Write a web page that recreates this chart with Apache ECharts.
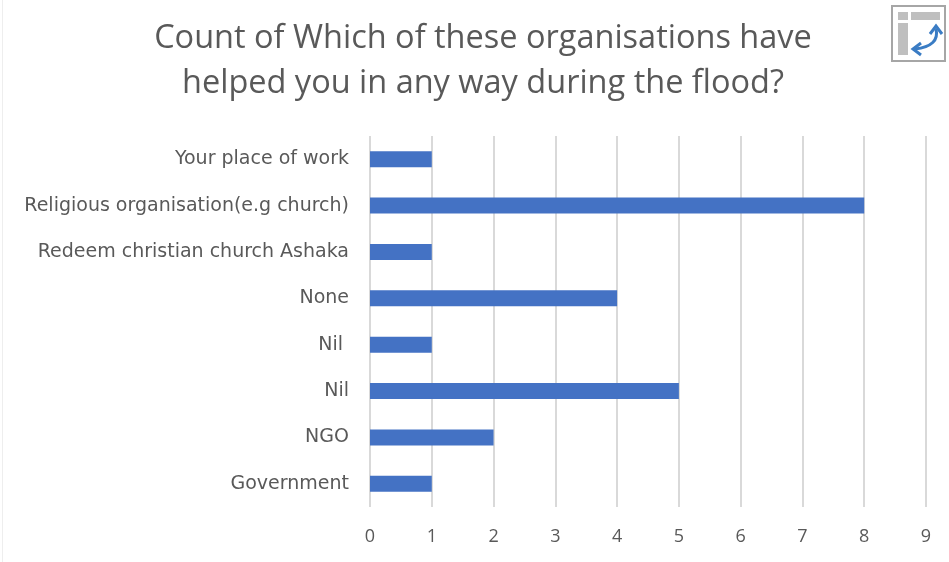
<!DOCTYPE html>
<html>
<head>
<meta charset="utf-8">
<script src="https://cdn.jsdelivr.net/npm/echarts@6/dist/echarts.min.js"></script>
<style>
  html, body { margin: 0; padding: 0; background: #fff; }
  #main { width: 949px; height: 562px; }
</style>
</head>
<body>
<div id="main"></div>
<script>
// 类别（从上到下）
var categories = ['Your place of work', 'Religious organisation(e.g church)', 'Redeem christian church Ashaka', 'None', 'Nil ', 'Nil', 'NGO', 'Government'];
var counts = [1, 8, 1, 4, 1, 5, 2, 1];
var xTicks = [0, 1, 2, 3, 4, 5, 6, 7, 8, 9];

var chart = echarts.init(document.getElementById('main'));
var textColor = '#595959';
var arrowBlue = '#3a7cc4';

var option = {
    backgroundColor: '#fff',
    animation: false,
    title: {
        text: 'Count of Which of these organisations have\nhelped you in any way during the flood?',
        left: 478,
        textAlign: 'center',
        top: 11,
        textStyle: {
            color: textColor,
            fontFamily: 'Open Sans',
            fontWeight: 'normal',
            fontSize: 32.5,
            lineHeight: 45
        }
    },
    grid: {
        left: 370,
        right: 23,
        top: 136,
        bottom: 55
    },
    xAxis: {
        type: 'value',
        min: xTicks[0],
        max: xTicks[xTicks.length - 1],
        interval: 1,
        axisLine: { show: false },
        axisTick: { show: false },
        axisLabel: {
            color: textColor,
            fontFamily: 'Open Sans',
            fontSize: 18,
            margin: 21
        },
        splitLine: {
            show: true,
            lineStyle: { color: '#d9d9d9', width: 2 }
        }
    },
    yAxis: {
        type: 'category',
        inverse: true,
        data: categories,
        axisLine: { show: false },
        axisTick: { show: false },
        axisLabel: {
            color: textColor,
            fontFamily: 'DejaVu Sans',
            fontSize: 19,
            margin: 21
        }
    },
    series: [{
        type: 'bar',
        data: counts,
        barWidth: 16,
        itemStyle: { color: '#4472c4' }
    }],
    graphic: [
        // 左边淡边框
        { type: 'rect', shape: { x: 2, y: 0, width: 1, height: 562 }, style: { fill: '#eeeeee' }, silent: true },
        // 右上角的小图标
        { type: 'rect', shape: { x: 892, y: 6, width: 53, height: 55 }, style: { fill: '#fff', stroke: '#a6a6a6', lineWidth: 2 }, silent: true },
        { type: 'rect', shape: { x: 898, y: 12, width: 10, height: 8 }, style: { fill: '#bfbfbf' }, silent: true },
        { type: 'rect', shape: { x: 911, y: 12, width: 29, height: 8 }, style: { fill: '#bfbfbf' }, silent: true },
        { type: 'rect', shape: { x: 898, y: 23, width: 10, height: 32 }, style: { fill: '#bfbfbf' }, silent: true },
        {
            type: 'bezierCurve',
            shape: { x1: 936, y1: 29, cpx1: 940, cpy1: 46, x2: 915, y2: 49 },
            style: { fill: 'none', stroke: arrowBlue, lineWidth: 3 },
            silent: true
        },
        { type: 'polyline', shape: { points: [[930, 34], [936, 26], [942, 34]] }, style: { fill: 'none', stroke: arrowBlue, lineWidth: 3 }, silent: true },
        { type: 'polyline', shape: { points: [[921, 43], [913, 49], [921, 55]] }, style: { fill: 'none', stroke: arrowBlue, lineWidth: 3 }, silent: true }
    ]
};

chart.setOption(option);
</script>
</body>
</html>
